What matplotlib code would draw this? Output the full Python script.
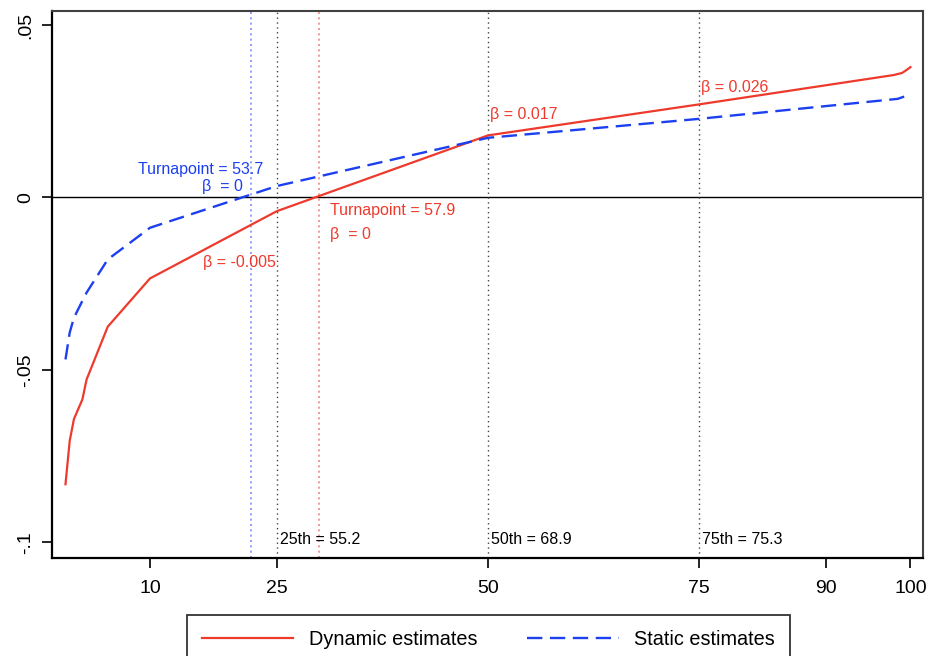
import numpy as np
import matplotlib
matplotlib.use("Agg")
from matplotlib import pyplot as plt

plt.rcParams['font.family'] = ['Liberation Sans', 'DejaVu Sans']

# percentile positions and estimated effects
x_dyn = [0, 0.5, 1, 2, 2.5, 5, 10, 25, 50, 75, 98, 99, 99.5, 100]
y_dyn = [-0.0832, -0.0706, -0.0643, -0.0586, -0.0528, -0.0375, -0.0235,
         -0.0040, 0.0180, 0.0270, 0.0355, 0.0361, 0.0369, 0.0378]

x_sta = [0, 0.5, 1, 2, 2.5, 5, 10, 25, 50, 75, 98.5, 100]
y_sta = [-0.0470, -0.0392, -0.0349, -0.0300, -0.0276, -0.0180, -0.0088,
         0.0033, 0.0173, 0.0228, 0.0286, 0.0299]

quartile_x = [25, 50, 75]
quartile_labels = ['25th = 55.2', '50th = 68.9', '75th = 75.3']
turn_dyn_x = 30
turn_sta_x = 22

x_ticks = [10, 25, 50, 75, 90, 100]
y_ticks = [-0.1, -0.05, 0, 0.05]
y_ticklabels = ['-.1', '-.05', '0', '.05']

red = '#ee3a2c'
blue = '#1c3ff0'

fig = plt.figure(figsize=(9.28, 6.56), dpi=100)
ax = fig.add_axes([0.056, 0.1494, 0.9387, 0.8339])

ax.axhline(0, color='black', lw=1.0, zorder=1)
for xq in quartile_x:
    ax.axvline(xq, color='#444444', lw=1.0, ls=(0, (1, 2.5)), zorder=1)
ax.axvline(turn_sta_x, color='#7d8cff', lw=1.2, ls=(0, (1.2, 2)), zorder=1)
ax.axvline(turn_dyn_x, color='#f28a80', lw=1.2, ls=(0, (1.2, 2)), zorder=1)

ax.plot(x_dyn, y_dyn, color=red, lw=1.6, label='Dynamic estimates', zorder=3)
ax.plot(x_sta, y_sta, color=blue, lw=1.7, ls=(0, (6.5, 3.2)),
        label='Static estimates', zorder=3)

fs = 11.5
ax.text(8.6, 0.0081, 'Turnapoint = 53.7', color=blue, fontsize=fs, va='center')
ax.text(16.1, 0.0032, 'β  = 0', color=blue, fontsize=fs, va='center')
ax.text(31.3, -0.0038, 'Turnapoint = 57.9', color=red, fontsize=fs, va='center')
ax.text(31.3, -0.0107, 'β  = 0', color=red, fontsize=fs, va='center')
ax.text(16.3, -0.0188, 'β = -0.005', color=red, fontsize=fs, va='center')
ax.text(50.2, 0.0241, 'β = 0.017', color=red, fontsize=fs, va='center')
ax.text(75.2, 0.0319, 'β = 0.026', color=red, fontsize=fs, va='center')
for xq, lab in zip(quartile_x, quartile_labels):
    ax.text(xq + 0.35, -0.0991, lab, color='black', fontsize=fs, va='center')

ax.set_xlim(-1.6, 101.5)
ax.set_ylim(-0.1046, 0.0541)
ax.set_xticks(x_ticks)
ax.set_yticks(y_ticks)
ax.set_yticklabels(y_ticklabels)
ax.tick_params(axis='both', direction='out', length=7, width=1.2,
               labelsize=14, colors='black')
ax.tick_params(axis='x', pad=9)
ax.tick_params(axis='y', pad=6, labelrotation=90)
for lab in ax.get_yticklabels():
    lab.set_va('center')

for side in ['left', 'bottom']:
    ax.spines[side].set_color('black')
    ax.spines[side].set_linewidth(1.6)
for side in ['top', 'right']:
    ax.spines[side].set_color('#404040')
    ax.spines[side].set_linewidth(1.5)

leg = fig.legend(loc='upper center', bbox_to_anchor=(488.5 / 928, 1 - 615 / 656),
                 ncol=2, fontsize=14.3, frameon=True, fancybox=False,
                 edgecolor='black', handlelength=4.6, handletextpad=0.8,
                 columnspacing=2.5, borderpad=0.75, borderaxespad=0)
leg.get_frame().set_linewidth(1.3)

fig.savefig('out.png', dpi=100)
